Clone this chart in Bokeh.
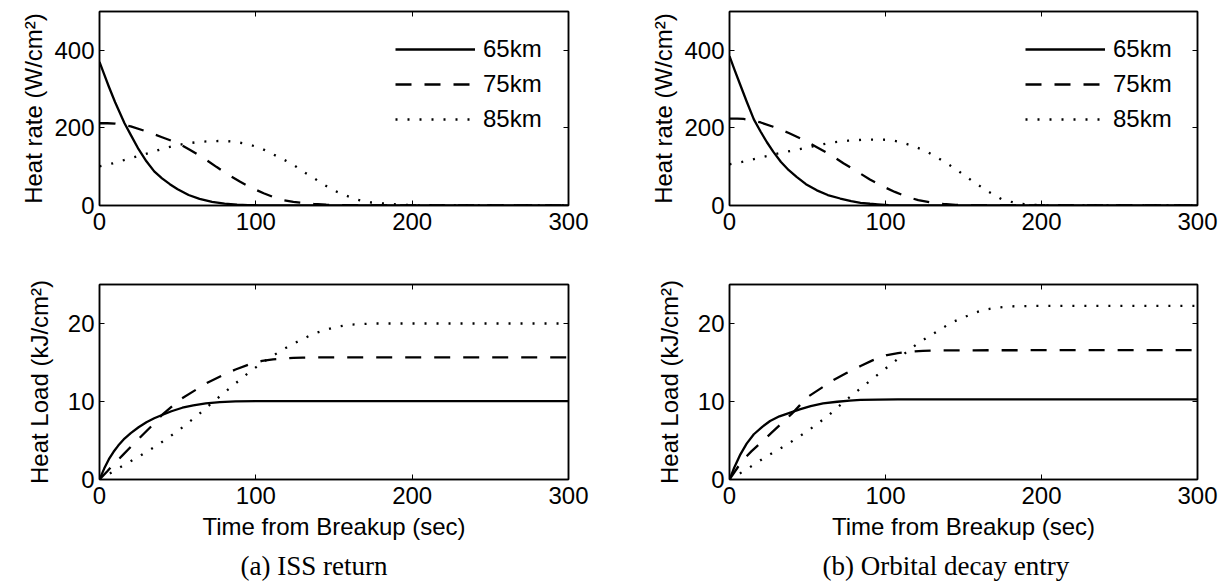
from bokeh.plotting import figure
from bokeh.layouts import column, row
from bokeh.models import (Range1d, FixedTicker, LinearAxis, Legend, LegendItem,
                          Title, CustomJSTickFormatter)
from bokeh.embed import file_html
from bokeh.resources import INLINE

# ---------------- data ----------------
altitudes = ["65km", "75km", "85km"]
x_ticks = [0, 100, 200, 300]
rate_ticks = [0, 200, 400]
load_ticks = [0, 10, 20]
captions = ["(a) ISS return", "(b) Orbital decay entry"]

# (a) ISS return - heat rate (W/cm^2)
ta_rate_65 = [0, 3, 6, 10, 16, 20, 25, 30, 35, 40, 45, 50, 57, 64, 72, 80, 88, 95, 102, 110, 300]
qa_rate_65 = [370, 338, 306, 266, 212, 182, 145, 114, 88, 70, 55, 42, 27, 17, 9.5, 5, 2.5, 1.2, 0.5, 0, 0]
ta_rate_75 = [0, 5, 10, 15, 20, 30, 40, 50, 58, 66, 75, 83, 90, 98, 105, 111, 118, 124, 130, 137, 145, 155, 170, 300]
qa_rate_75 = [212, 212, 211, 208, 204, 191, 176, 161, 143, 124, 99, 78, 61, 44, 31.5, 22, 13.5, 9.5, 7, 4, 2, 0.8, 0, 0]
ta_rate_85 = [0, 10, 19, 27, 34, 41, 49, 56, 64, 72, 80, 87, 95, 103, 111, 117, 124, 130, 137, 143, 150, 157, 164, 171, 179, 186, 194, 205, 300]
qa_rate_85 = [101, 110, 121, 130, 138, 147, 155, 160, 164, 166, 166.5, 164, 158, 148, 132, 120, 105, 88, 71, 55, 38.6, 26.5, 16, 9, 6, 4, 2, 0, 0]

# (b) Orbital decay entry - heat rate (W/cm^2)
tb_rate_65 = [0, 3, 7, 11, 15.6, 20, 24, 28, 33, 38, 43, 49, 56, 63, 71, 78, 84, 90, 95, 102, 110, 120, 300]
qb_rate_65 = [385, 352, 310, 268, 222, 190, 163, 139, 112, 91, 74, 55, 39, 27, 18, 11, 7, 4.5, 3, 1.2, 0.3, 0, 0]
tb_rate_75 = [0, 5, 9, 15, 20, 28, 38, 48, 56, 65, 73, 82, 90, 99, 106, 114, 121, 129, 137, 145, 155, 165, 300]
qb_rate_75 = [224, 224, 223, 219, 214, 203, 187, 168, 150, 130, 109, 87, 67, 48, 35, 22, 14, 8, 4, 1.5, 0.5, 0, 0]
tb_rate_85 = [0, 10, 20, 30, 41, 53, 65, 76, 88, 96, 103, 110, 118, 126, 133, 140, 146, 155, 165, 175, 185, 195, 205, 300]
qb_rate_85 = [106, 114, 124, 133, 142, 152, 162, 167, 170, 170, 169, 163, 153, 140, 124, 107, 91, 65, 38, 15, 5, 1.5, 0, 0]

# (a) ISS return - heat load (kJ/cm^2)
ta_load_65 = [0, 3, 6, 9, 12, 16, 20, 25, 30, 35, 40, 46, 53, 60, 68, 77, 87, 100, 300]
la_load_65 = [0, 1.4, 2.6, 3.55, 4.35, 5.25, 5.95, 6.7, 7.35, 7.85, 8.27, 8.75, 9.2, 9.5, 9.76, 9.93, 10.02, 10.05, 10.05]
ta_load_75 = [0, 5, 9, 15, 21, 28, 35, 40, 46, 52, 60, 69, 78, 87, 95, 104, 111, 117, 124, 130, 140, 300]
la_load_75 = [0, 1.05, 1.95, 3.15, 4.4, 5.8, 7.2, 8.27, 9.3, 10.3, 11.3, 12.4, 13.3, 14.1, 14.7, 15.2, 15.4, 15.5, 15.6, 15.62, 15.65, 15.65]
ta_load_85 = [0, 11, 24, 37, 50, 62, 73, 85, 98, 108, 116, 123, 130, 137, 145, 150, 160, 175, 300]
la_load_85 = [0, 1.3, 2.8, 4.4, 6.2, 8.1, 10.0, 12.0, 14.1, 15.5, 16.5, 17.3, 18.0, 18.7, 19.2, 19.5, 19.85, 20.0, 20.0]

# (b) Orbital decay entry - heat load (kJ/cm^2)
tb_load_65 = [0, 3, 7, 11, 15.6, 21, 26, 32, 39, 45, 52, 60, 69, 77, 84, 95, 108, 300]
lb_load_65 = [0, 1.5, 3.23, 4.6, 5.8, 6.75, 7.5, 8.1, 8.57, 9.0, 9.42, 9.75, 9.97, 10.12, 10.2, 10.25, 10.28, 10.28]
tb_load_75 = [0, 8, 14, 20, 27, 34, 40, 45, 51, 59, 67, 75, 84, 92, 101, 108, 116, 124, 133, 300]
lb_load_75 = [0, 2.37, 3.6, 4.7, 6.0, 7.3, 8.44, 9.5, 10.7, 11.75, 12.8, 13.65, 14.55, 15.3, 15.96, 16.2, 16.4, 16.5, 16.56, 16.6]
tb_load_85 = [0, 11, 24, 37, 50, 63, 74, 86, 98, 110, 121, 134, 142, 148, 155, 162, 170, 180, 195, 300]
lb_load_85 = [0, 1.3, 3.0, 4.5, 6.2, 8.14, 10.06, 12.0, 13.9, 15.8, 17.5, 19.1, 20.1, 20.6, 21.2, 21.7, 22.0, 22.2, 22.25, 22.25]

# ---------------- styling ----------------
FONT = "Liberation Sans"
SERIF = "Liberation Serif"
FS = "24px"
DASH = {"65km": "solid", "75km": "16 13", "85km": "2 10"}
LW = 2.3

W_A, W_B = 630, 595
H_TOP, H_BOT = 250, 337


def blank_axis(ticks, lw):
    ax = LinearAxis(ticker=FixedTicker(ticks=ticks))
    ax.formatter = CustomJSTickFormatter(code="return ''")
    ax.major_label_text_font_size = "0px"
    ax.major_label_standoff = 0
    ax.major_tick_in = 5
    ax.major_tick_out = 0
    ax.minor_tick_line_color = None
    ax.axis_line_width = lw
    ax.major_tick_line_width = 1
    return ax


def make_fig(width, height, ymax, yticks, ylabel, xlabel, border_top, border_bottom,
             border_right, ylabel_standoff):
    p = figure(width=width, height=height, output_backend="svg", toolbar_location=None,
               x_range=Range1d(0, 300), y_range=Range1d(0, ymax),
               min_border_left=99, min_border_right=border_right,
               min_border_top=border_top, min_border_bottom=border_bottom)
    p.xgrid.visible = False
    p.ygrid.visible = False
    p.outline_line_color = "black"
    p.outline_line_width = 1.5
    p.background_fill_color = "white"
    p.border_fill_color = "white"

    for ax, ticks in ((p.xaxis[0], x_ticks), (p.yaxis[0], yticks)):
        ax.ticker = FixedTicker(ticks=ticks)
        ax.major_tick_in = 5
        ax.major_tick_out = 0
        ax.minor_tick_line_color = None
        ax.axis_line_width = 1.5
        ax.major_label_text_font = FONT
        ax.major_label_text_font_size = FS
        ax.major_label_text_color = "black"
        ax.axis_label_text_font = FONT
        ax.axis_label_text_font_size = FS
        ax.axis_label_text_font_style = "normal"
        ax.axis_label_text_color = "black"
    p.xaxis.major_label_standoff = 7
    p.yaxis.major_label_standoff = 5
    p.yaxis.major_label_orientation = "horizontal"
    p.yaxis.axis_label = ylabel
    p.yaxis.axis_label_standoff = ylabel_standoff
    if xlabel:
        p.xaxis.axis_label = xlabel
        p.xaxis.axis_label_standoff = 6

    p.add_layout(blank_axis(x_ticks, 1.5), "above")
    p.add_layout(blank_axis(yticks, 1.5), "right")
    return p


def add_lines(p, series, legend=False):
    items = []
    for name, (t, v) in zip(altitudes, series):
        r = p.line(t, v, line_color="black", line_width=LW, line_dash=DASH[name],
                   line_cap="butt", line_join="round")
        items.append(LegendItem(label=name, renderers=[r]))
    if legend:
        lg = Legend(items=items, location=(296, 72), border_line_color=None,
                    background_fill_alpha=0, padding=0, margin=0, spacing=7,
                    glyph_width=80, glyph_height=28, label_height=28, label_standoff=8,
                    label_text_font=FONT, label_text_font_size=FS,
                    label_text_color="black")
        p.add_layout(lg)


RATE_LABEL = "Heat rate (W/cm\u00b2)"
LOAD_LABEL = "Heat Load (kJ/cm\u00b2)"
XLABEL = "Time from Breakup (sec)"

a_top = make_fig(W_A, H_TOP, 500, rate_ticks, RATE_LABEL, None, 11, 45, 62, 4)
b_top = make_fig(W_B, H_TOP, 500, rate_ticks, RATE_LABEL, None, 11, 45, 28, 4)
a_bot = make_fig(W_A, H_BOT, 25, load_ticks, LOAD_LABEL, XLABEL, 34, 108, 62, 12)
b_bot = make_fig(W_B, H_BOT, 25, load_ticks, LOAD_LABEL, XLABEL, 34, 108, 28, 12)

add_lines(a_top, [(ta_rate_65, qa_rate_65), (ta_rate_75, qa_rate_75), (ta_rate_85, qa_rate_85)], legend=True)
add_lines(b_top, [(tb_rate_65, qb_rate_65), (tb_rate_75, qb_rate_75), (tb_rate_85, qb_rate_85)], legend=True)
add_lines(a_bot, [(ta_load_65, la_load_65), (ta_load_75, la_load_75), (ta_load_85, la_load_85)])
add_lines(b_bot, [(tb_load_65, lb_load_65), (tb_load_75, lb_load_75), (tb_load_85, lb_load_85)])

# sub-figure captions below the x-axis titles
for p, cap, off in ((a_bot, captions[0], 141), (b_bot, captions[1], 93)):
    p.add_layout(Title(text=cap, align="left", offset=off, standoff=12,
                       text_font=SERIF, text_font_size="27px", text_font_style="normal",
                       text_color="black"), "below")

layout = column(row(a_top, b_top), row(a_bot, b_bot))

open("out.html", "w").write(file_html(layout, INLINE))
